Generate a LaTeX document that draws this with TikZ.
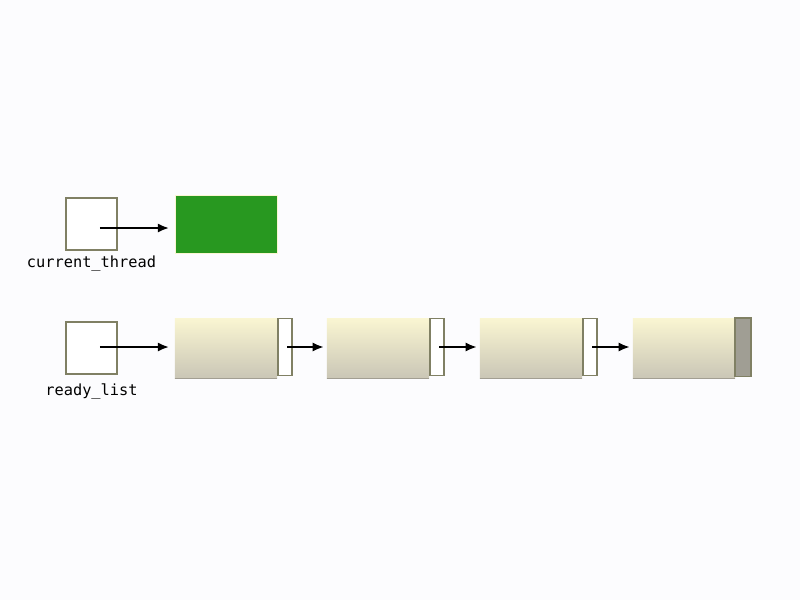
\documentclass[tikz,border=0pt]{standalone}
\usepackage{fontspec}
\setmonofont{DejaVu Sans Mono}
\usetikzlibrary{positioning,arrows.meta}

\definecolor{paper}{RGB}{252,252,254}
\definecolor{rim}{RGB}{128,128,100}
\definecolor{runcol}{RGB}{40,152,32}
\definecolor{celltop}{RGB}{250,246,210}
\definecolor{cellbot}{RGB}{202,198,182}
\definecolor{tailcol}{RGB}{160,158,148}

\tikzset{
    ptrbox/.style={draw=rim, line width=1.2pt, fill=white, minimum width=1.275cm, minimum height=1.3cm, inner sep=0pt},
    cell/.style={top color=celltop, bottom color=cellbot, minimum width=2.55cm, minimum height=1.5cm, inner sep=0pt},
    nextbox/.style={draw=rim, line width=1.2pt, fill=white, minimum width=0.35cm, minimum height=1.425cm, inner sep=0pt, anchor=north west},
    varname/.style={font=\fontsize{10.9}{13}\selectfont\ttfamily, inner sep=0pt},
    link/.style={-{Latex[length=8pt,width=6.5pt]}, line width=1.5pt}
}

\begin{document}
\begin{tikzpicture}[x=0.025cm, y=-0.025cm]
    \fill[paper] (0,0) rectangle (800,600); % page
    \useasboundingbox (0,0) rectangle (800,600);

    % running thread
    \node[ptrbox] (cur) at (91.5,224) {};
    \node[varname, below=0.12cm of cur] (curname) {current\_thread};
    \node[fill=runcol, draw=celltop, minimum width=2.55cm, minimum height=1.45cm, inner sep=0pt] (run) at (226,224) {};
    \coordinate (curptr) at ([xshift=0.21cm, yshift=-0.1cm]cur.center);
    \draw[link] (curptr) -- ([xshift=-4pt]run.west |- curptr);

    % ready list
    \node[ptrbox] (ready) at (91.5,348) {};
    \node[varname, below=0.22cm of ready] (readyname) {ready\_list};
    \coordinate (readyptr) at ([xshift=0.21cm, yshift=0.025cm]ready.center);
    \foreach \x [count=\i] in {226,378,531,684} {
        \node[cell] (c\i) at (\x,348) {};
        \draw[cellbot!80!black, line width=0.8pt] (c\i.south west) -- (c\i.south east); % shadow edge
        \node[nextbox] (n\i) at (c\i.north east) {};
    }
    \draw[link] (readyptr) -- ([xshift=-4pt]c1.west |- readyptr);
    \foreach \i/\j in {1/2,2/3,3/4}
        \draw[link] ([xshift=0.05cm]n\i.center |- readyptr) -- ([xshift=-2pt]c\j.west |- readyptr);
    \fill[tailcol] (n4.north west) rectangle (n4.south east); % end of list
    \draw[rim, line width=1.2pt] (n4.north west) rectangle (n4.south east);
\end{tikzpicture}
\end{document}
